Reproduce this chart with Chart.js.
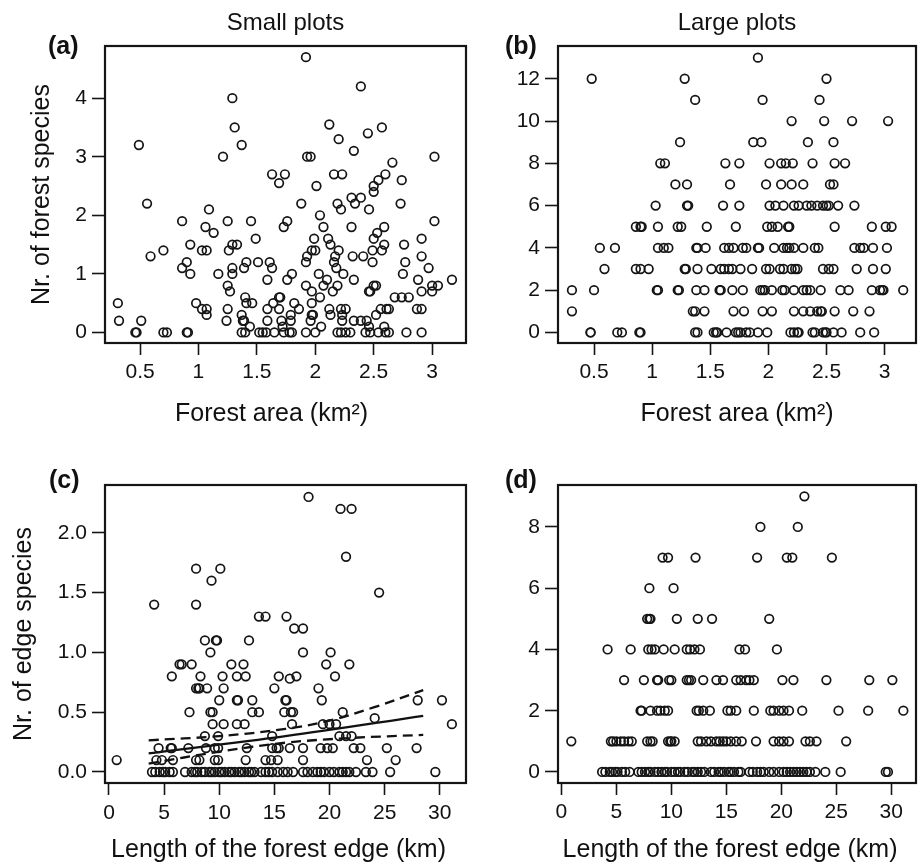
<!DOCTYPE html>
<html>
<head>
<meta charset="utf-8">
<script src="https://cdn.jsdelivr.net/npm/chart.js@4.4.1/dist/chart.umd.min.js"></script>
<style>
  html, body { margin: 0; padding: 0; background: #fff; }
  #fig { position: relative; width: 922px; height: 862px; overflow: hidden; }
  #fig canvas { position: absolute; }
</style>
</head>
<body>
<div id="fig">
  <canvas id="chartA" width="472" height="431" style="left:0;top:0"></canvas>
  <canvas id="chartB" width="450" height="431" style="left:472px;top:0"></canvas>
  <canvas id="chartC" width="472" height="440" style="left:0;top:431px"></canvas>
  <canvas id="chartD" width="450" height="440" style="left:472px;top:431px"></canvas>
</div>
<script>
// (a) small plots: forest area (km2) vs nr. of forest species
const smallForest = [
  [0.49,3.2],[1.92,4.7],[2.39,4.2],[1.29,4.0],[1.31,3.5],[1.37,3.2],[1.21,3.0],[2.12,3.55],[2.20,3.3],
  [2.45,3.4],[2.57,3.5],[2.33,3.1],[1.93,3.0],[1.96,3.0],[3.02,3.0],[2.66,2.9],[1.63,2.7],[1.74,2.7],
  [1.69,2.55],[2.16,2.7],[2.23,2.7],[2.60,2.7],[2.54,2.6],[2.50,2.5],[2.74,2.6],[2.01,2.5],[2.50,2.4],
  [2.31,2.3],[2.39,2.3],
  [0.56,2.2],[0.86,1.9],[1.09,2.1],[1.06,1.8],[1.13,1.7],[0.93,1.5],[1.25,1.9],[1.45,1.9],[1.49,1.6],
  [1.29,1.5],[1.33,1.5],[1.26,1.4],[1.73,1.8],[1.76,1.9],[1.88,2.2],[2.04,2.0],[2.07,1.8],[1.99,1.6],
  [2.11,1.6],[2.13,1.5],[2.19,2.2],[2.22,2.1],[2.34,2.2],[2.46,2.1],[2.31,1.8],[2.73,2.2],[3.02,1.9],
  [2.59,1.8],[2.53,1.7],[2.50,1.6],[2.59,1.5],[2.76,1.5],[2.91,1.6],[2.49,1.4],[2.57,1.4],[2.20,1.4],
  [1.97,1.4],[2.00,1.4],[2.17,1.3],[2.32,1.3],[2.41,1.3],[2.49,1.2],[2.91,1.3],[2.77,1.2],[2.97,1.1],
  [1.92,1.2],[1.93,1.3],[2.16,1.2],[2.18,1.1],
  [2.03,1.0],[2.10,0.9],[2.07,0.8],[2.24,1.0],[2.33,0.9],[2.19,0.8],[2.15,0.7],[1.92,0.8],[1.97,0.7],
  [2.04,0.6],[2.50,0.8],[2.46,0.7],[2.47,0.7],[2.75,1.0],[2.88,0.9],[2.91,0.7],[3.00,0.7],[3.00,0.8],
  [3.05,0.8],[3.17,0.9],[2.68,0.6],[2.74,0.6],[2.80,0.6],[2.87,0.4],[2.91,0.4],[2.78,0],[2.91,0],
  [2.60,0],[2.54,0],[2.59,0.1],[2.56,0.4],[2.61,0.4],[2.52,0.3],[2.46,0.1],[2.43,0],[2.47,0],
  [2.44,0.2],[2.39,0.2],[2.33,0.2],[2.30,0],[2.26,0],[2.22,0],[2.19,0],[2.23,0.2],[2.22,0.4],
  [2.26,0.4],[2.23,0.3],[2.12,0.4],[2.13,0.3],[2.05,0.1],[2.00,0],[1.92,0],[1.97,0.3],[1.98,0.3],
  [1.97,0.5],[1.96,0.2],[1.86,0.4],[1.82,0.5],[1.80,0],[1.78,0],[1.73,0],[1.79,0.2],[1.72,0.1],
  [1.71,0.2],[1.79,0.3],[1.69,0.4],[1.69,0.6],[1.70,0.6],[1.64,0.5],[1.59,0.4],[1.59,0.2],[1.65,0],
  [1.58,0],[1.55,0],[1.52,0],[1.46,0.5],[1.40,0.6],[1.41,0.5],[1.44,0.1],[1.38,0.2],[1.39,0.2],
  [1.37,0.3],[1.37,0],[1.40,0],[1.25,0.4],[1.24,0.2],[1.27,0.7],[1.25,0.8],[1.29,1.0],[1.29,1.1],
  [1.39,1.1],[1.41,1.2],[1.51,1.2],[1.61,1.2],[1.63,1.1],[1.59,0.9],[1.76,0.9],[1.80,1.0],[1.17,1.0],
  [1.07,0.4],[1.07,0.3],[0.98,0.5],[0.90,1.2],[0.86,1.1],[0.93,1.0],[1.03,1.4],[1.07,1.4],[0.90,0],
  [0.91,0],[0.70,1.4],[0.59,1.3],[0.51,0.2],[0.46,0],[0.47,0],[0.31,0.5],[0.32,0.2],[0.70,0],
  [0.73,0],[2.63,0],[2.63,0.4],[2.52,0.8],[1.03,0.4]
];

// (b) large plots: species counts and the forest areas found at each count
const largeForestLevels = [13, 12, 11, 10, 9, 8, 7, 6, 5, 4, 3, 2, 1, 0];
const largeForestAreas = [
  [1.91],
  [0.48, 1.28, 2.50],
  [1.37, 1.95, 2.44],
  [2.20, 2.48, 2.72, 3.03],
  [1.24, 1.87, 1.94, 2.34, 2.56],
  [1.07, 1.11, 1.63, 1.75, 2.01, 2.11, 2.15, 2.21, 2.38, 2.57, 2.66],
  [1.20, 1.30, 1.67, 1.98, 2.11, 2.20, 2.30, 2.53, 2.56],
  [1.03, 1.30, 1.31, 1.61, 1.75, 2.01, 2.06, 2.13, 2.22, 2.26, 2.33, 2.37, 2.42, 2.47, 2.50, 2.52, 2.60, 2.74],
  [0.86, 0.90, 0.91, 1.05, 1.22, 1.25, 1.47, 1.72, 1.99, 2.03, 2.08, 2.17, 2.18, 2.57, 2.89, 3.01, 3.06],
  [0.55, 0.68, 1.05, 1.10, 1.14, 1.38, 1.39, 1.46, 1.62, 1.66, 1.70, 1.78, 1.81, 1.91, 1.92, 2.05, 2.13,
   2.16, 2.18, 2.22, 2.30, 2.40, 2.43, 2.74, 2.79, 2.82, 2.90, 3.02],
  [0.59, 0.86, 0.90, 0.97, 1.28, 1.29, 1.39, 1.51, 1.59, 1.62, 1.66, 1.69, 1.76, 1.86, 1.98, 2.01, 2.10,
   2.13, 2.20, 2.23, 2.25, 2.47, 2.52, 2.56, 2.76, 2.90, 3.01],
  [0.31, 0.50, 1.04, 1.05, 1.22, 1.23, 1.38, 1.45, 1.58, 1.59, 1.69, 1.78, 1.93, 1.95, 1.97, 2.03, 2.12,
   2.14, 2.22, 2.30, 2.33, 2.36, 2.45, 2.62, 2.69, 2.89, 2.96, 2.98, 2.99, 3.16],
  [0.31, 1.35, 1.37, 1.45, 1.70, 1.79, 1.95, 2.03, 2.22, 2.30, 2.36, 2.42, 2.45, 2.46, 2.57, 2.73, 2.87],
  [0.47, 0.47, 0.70, 0.74, 0.89, 0.90, 1.37, 1.39, 1.53, 1.55, 1.56, 1.64, 1.72, 1.74, 1.76, 1.81, 1.84,
   1.91, 1.99, 2.19, 2.22, 2.25, 2.26, 2.38, 2.40, 2.47, 2.49, 2.50, 2.56, 2.63, 2.79, 2.91]
];

// (c) small plots: length of forest edge (km) vs nr. of edge species
const smallEdge = [
  [18.1,2.3],[21.0,2.2],[22.0,2.2],[21.5,1.8],[24.5,1.5],[4.1,1.4],[7.9,1.4],[7.9,1.7],[10.1,1.7],
  [9.3,1.6],[13.6,1.3],[14.2,1.3],[16.1,1.3],[16.8,1.2],[17.6,1.2],[8.7,1.1],[9.7,1.1],[9.8,1.1],
  [12.7,1.1],[9.2,1.0],[17.6,1.0],[20.1,1.0],
  [6.4,0.9],[6.6,0.9],[7.5,0.9],[11.1,0.9],[12.2,0.9],[19.7,0.9],[21.8,0.9],
  [5.7,0.8],[8.3,0.8],[10.3,0.8],[11.6,0.8],[12.4,0.8],[15.4,0.8],[16.4,0.78],[17.0,0.8],[20.5,0.8],
  [19.0,0.7],[15.0,0.7],[7.9,0.7],[8.1,0.7],[8.2,0.7],[8.9,0.7],[10.4,0.7],
  [10.0,0.6],[11.6,0.6],[11.7,0.6],[13.0,0.6],[16.0,0.6],[16.1,0.6],[19.3,0.6],[28.0,0.6],[30.2,0.6],
  [7.3,0.5],[9.2,0.5],[9.4,0.5],[13.0,0.5],[13.6,0.5],[15.9,0.5],[16.5,0.5],[16.7,0.5],[21.2,0.5],
  [31.1,0.4],[24.1,0.45],[9.4,0.4],[10.4,0.4],[11.6,0.4],[12.3,0.4],[16.6,0.4],[19.4,0.4],[20.0,0.4],[20.6,0.4],
  [8.7,0.3],[9.9,0.3],[14.8,0.3],[20.9,0.3],[21.5,0.3],[22.0,0.3],
  [4.5,0.2],[5.6,0.2],[5.7,0.2],[7.2,0.2],[8.8,0.2],[9.6,0.2],[9.9,0.2],[12.5,0.2],[14.8,0.2],[15.2,0.2],
  [15.4,0.2],[16.4,0.2],[17.6,0.2],[19.2,0.2],[19.8,0.2],[20.3,0.2],[22.2,0.2],[22.8,0.2],[25.2,0.2],[27.9,0.2],
  [4.3,0.1],[4.8,0.1],[5.8,0.1],[7.9,0.1],[8.2,0.1],[9.6,0.1],[9.9,0.1],[12.4,0.1],[14.2,0.1],[14.7,0.1],
  [15.3,0.1],[17.6,0.1],[23.4,0.1],[26.0,0.1],[0.7,0.1],
  [3.9,0],[4.2,0],[4.6,0],[4.9,0],[5.1,0],[5.5,0],[5.8,0],[6.9,0],[7.5,0],[7.8,0],[8.0,0],[8.4,0],
  [8.7,0],[9.1,0],[9.3,0],[9.6,0],[10.0,0],[10.2,0],[10.5,0],[10.9,0],[11.1,0],[11.4,0],[11.8,0],
  [12.0,0],[12.3,0],[12.7,0],[12.9,0],[13.2,0],[13.8,0],[14.2,0],[14.5,0],[14.8,0],[15.3,0],[15.8,0],
  [16.2,0],[16.7,0],[17.6,0],[18.0,0],[18.5,0],[18.9,0],[19.2,0],[19.5,0],[20.0,0],[20.4,0],[20.9,0],
  [21.2,0],[21.5,0],[21.8,0],[22.4,0],[23.3,0],[23.9,0],[25.5,0],[29.6,0]
];
// (c) fitted model and its confidence band
const fitEdgeX = [3.6, 16, 28.5];
const fitEdgeY = [0.155, 0.30, 0.47];
const fitUpperX = [3.6, 10, 16, 20, 24, 28.5];
const fitUpperY = [0.265, 0.30, 0.36, 0.43, 0.54, 0.685];
const fitLowerX = [3.6, 10, 16, 22, 28.5];
const fitLowerY = [0.07, 0.17, 0.245, 0.285, 0.31];

// (d) large plots: species counts and the edge lengths found at each count
const largeEdgeLevels = [9, 8, 7, 6, 5, 4, 3, 2, 1, 0];
const largeEdgeLengths = [
  [22.1],
  [18.1, 21.5],
  [9.2, 9.7, 12.2, 17.8, 20.5, 21.0, 24.6],
  [8.0, 10.2],
  [7.8, 8.0, 8.1, 10.5, 12.4, 13.7, 18.9],
  [4.2, 6.3, 7.9, 8.2, 8.5, 9.3, 10.3, 11.4, 11.7, 12.1, 12.6, 16.2, 16.7, 19.6],
  [5.7, 7.5, 8.7, 8.8, 9.8, 10.0, 11.4, 11.6, 11.8, 12.9, 14.1, 14.7, 15.9, 16.3, 16.8, 17.1, 17.5,
   20.1, 21.1, 24.1, 28.0, 30.1],
  [7.2, 7.3, 8.1, 8.7, 9.0, 9.4, 9.7, 12.3, 12.5, 12.9, 13.5, 15.1, 15.4, 15.9, 17.5, 19.0, 19.3,
   19.8, 20.2, 20.7, 21.9, 25.2, 27.9, 31.1],
  [0.9, 4.5, 4.7, 5.0, 5.4, 5.7, 6.1, 6.4, 7.8, 8.1, 8.3, 9.7, 9.9, 10.0, 10.3, 12.4, 12.7, 13.2, 13.6,
   14.1, 14.4, 14.7, 15.0, 15.4, 15.9, 16.4, 17.7, 19.3, 19.8, 20.2, 20.7, 22.2, 22.6, 23.2, 25.9],
  [3.7, 4.0, 4.4, 4.6, 4.9, 5.1, 5.5, 5.8, 6.2, 7.0, 7.3, 7.6, 7.9, 8.1, 8.5, 8.8, 9.1, 9.4, 9.6, 10.0,
   10.3, 10.6, 10.8, 11.2, 11.5, 11.9, 12.1, 12.4, 12.7, 13.0, 13.6, 13.9, 14.3, 14.5, 14.8, 15.2,
   15.4, 15.7, 16.1, 16.3, 17.1, 17.4, 17.8, 18.1, 18.4, 18.9, 19.3, 19.8, 20.2, 20.5, 20.8, 21.1,
   21.4, 21.7, 22.0, 22.3, 22.6, 23.1, 24.0, 25.4, 29.5, 29.7]
];

// tick labels
const areaTicks = [0.5, 1, 1.5, 2, 2.5, 3];
const edgeTicks = [0, 5, 10, 15, 20, 25, 30];
const smallForestTicks = [0, 1, 2, 3, 4];
const largeForestTicks = [0, 2, 4, 6, 8, 10, 12];
const smallEdgeTicks = [0, 0.5, 1, 1.5, 2];
const largeEdgeTicks = [0, 2, 4, 6, 8];

Chart.defaults.font.family = '"Liberation Sans", Arial, Helvetica, sans-serif';
Chart.defaults.color = '#111';
Chart.defaults.animation = false;

const ink = '#151515';

// box round the plot region
const frame = {
  id: 'frame',
  afterDatasetsDraw(chart) {
    const { ctx, chartArea: a } = chart;
    ctx.save();
    ctx.strokeStyle = ink;
    ctx.lineWidth = 2.2;
    ctx.strokeRect(a.left, a.top, a.right - a.left, a.bottom - a.top);
    ctx.restore();
  }
};

// panel letter, (a) (b) ...
const panelTag = {
  id: 'panelTag',
  afterDraw(chart, args, opts) {
    const ctx = chart.ctx;
    ctx.save();
    ctx.font = 'bold 25px "Liberation Sans", Arial, sans-serif';
    ctx.fillStyle = '#111';
    ctx.textBaseline = 'middle';
    ctx.fillText(opts.text, opts.x, opts.y);
    ctx.restore();
  }
};

function pairs(list) {
  return list.map(p => ({ x: p[0], y: p[1] }));
}
function rows(levels, values) {
  const out = [];
  levels.forEach((lv, i) => values[i].forEach(v => out.push({ x: v, y: lv })));
  return out;
}

function pointSet(points) {
  return {
    data: points,
    pointStyle: 'circle',
    pointRadius: 4.3,
    pointBorderWidth: 1.7,
    borderColor: ink,
    backgroundColor: 'rgba(0,0,0,0)',
    pointHoverRadius: 4.3
  };
}

function lineSet(xs, ys, dash) {
  return {
    data: xs.map((x, i) => ({ x: x, y: ys[i] })),
    showLine: true,
    pointRadius: 0,
    borderColor: '#111',
    borderWidth: 2.3,
    borderDash: dash,
    tension: 0.35,
    fill: false
  };
}

function xAxis(min, max, ticks, title, titlePad, tickPad) {
  return {
    type: 'linear', position: 'bottom', min: min, max: max,
    afterBuildTicks: s => { s.ticks = ticks.map(v => ({ value: v })); },
    afterFit: s => { s.height = 88; },
    ticks: { font: { size: 21 }, padding: tickPad, maxRotation: 0, autoSkip: false, callback: v => String(v) },
    grid: { drawOnChartArea: false, tickLength: 12, tickColor: ink, tickWidth: 1.6 },
    border: { display: false },
    title: { display: true, text: title, font: { size: 25 }, padding: { top: 0, bottom: titlePad } }
  };
}

function yAxis(min, max, ticks, width, title, titlePad, fmt) {
  return {
    type: 'linear', position: 'left', min: min, max: max,
    afterBuildTicks: s => { s.ticks = ticks.map(v => ({ value: v })); },
    afterFit: s => { s.width = width; },
    ticks: { font: { size: 21 }, padding: 5, autoSkip: false, callback: fmt },
    grid: { drawOnChartArea: false, tickLength: 13, tickColor: ink, tickWidth: 1.6 },
    border: { display: false },
    title: { display: !!title, text: title || '', font: { size: 25 }, padding: { top: titlePad, bottom: 0 } }
  };
}

function panel(id, datasets, scales, pad, heading, tag) {
  new Chart(document.getElementById(id), {
    type: 'scatter',
    data: { datasets: datasets },
    options: {
      responsive: false,
      events: [],
      layout: { padding: pad },
      scales: scales,
      plugins: {
        legend: { display: false },
        tooltip: { enabled: false },
        title: heading ? {
          display: true, text: heading, fullSize: false,
          font: { size: 24, weight: 'normal' }, color: '#111',
          padding: { top: 9, bottom: 8.2 }
        } : { display: false },
        panelTag: tag
      }
    },
    plugins: [frame, panelTag]
  });
}

const plain = v => String(v);
const oneDec = v => v.toFixed(1);
const nbsp = '\u00a0';

panel('chartA', [pointSet(pairs(smallForest))], {
  x: xAxis(0.2, 3.29, areaTicks, 'Forest area (km²)' + nbsp.repeat(4), 2, 5),
  y: yAxis(-0.18, 4.89, smallForestTicks, 105, 'Nr. of forest species', 27, plain)
}, { top: 0, right: 5, left: 0, bottom: 0 }, 'Small plots', { text: '(a)', x: 48, y: 47 });

panel('chartB', [pointSet(rows(largeForestLevels, largeForestAreas))], {
  x: xAxis(0.19, 3.27, areaTicks, 'Forest area (km²)', 2, 5),
  y: yAxis(-0.5, 13.55, largeForestTicks, 86, null, 0, plain)
}, { top: 0, right: 3, left: 0, bottom: 0 }, 'Large plots', { text: '(b)', x: 33, y: 47 });

panel('chartC', [
  pointSet(pairs(smallEdge)),
  lineSet(fitEdgeX, fitEdgeY, []),
  lineSet(fitUpperX, fitUpperY, [10, 6]),
  lineSet(fitLowerX, fitLowerY, [10, 6])
], {
  x: xAxis(-0.36, 32.38, edgeTicks, 'Length of the forest edge (km)' + nbsp.repeat(2), 6, 6),
  y: yAxis(-0.092, 2.4, smallEdgeTicks, 105, 'Nr. of edge species', 9, oneDec)
}, { top: 54, right: 5, left: 0, bottom: 0 }, null, { text: '(c)', x: 49, y: 50 });

panel('chartD', [pointSet(rows(largeEdgeLevels, largeEdgeLengths))], {
  x: xAxis(-0.31, 32.25, edgeTicks, 'Length of the forest edge (km)' + nbsp.repeat(2), 6, 5),
  y: yAxis(-0.36, 9.37, largeEdgeTicks, 86, null, 0, plain)
}, { top: 54, right: 3, left: 0, bottom: 0 }, null, { text: '(d)', x: 33, y: 50 });
</script>
</body>
</html>
